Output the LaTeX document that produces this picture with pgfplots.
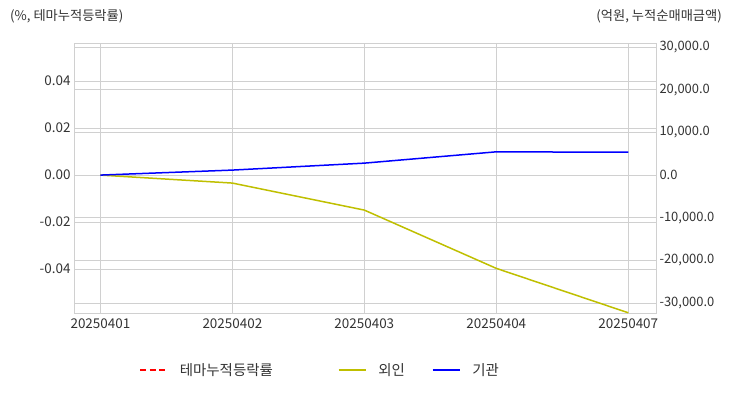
\documentclass[border=0pt]{standalone}
\usepackage{pgfplots}
\pgfplotsset{compat=1.18}
\usepackage{fontspec}
\setmainfont{Noto Sans CJK KR}
\definecolor{olivey}{rgb}{0.75,0.75,0}
\definecolor{gridc}{HTML}{D0D0D0}
\definecolor{txt}{HTML}{333333}
\begin{document}
\begin{tikzpicture}[x=1bp,y=1bp]
\useasboundingbox (0,0) rectangle (732,392);
\node[anchor=west, text=txt, font=\fontsize{13.3}{15}\selectfont, inner sep=0] at (10,376) {(\%, 테마누적등락률)};
\node[anchor=east, text=txt, font=\fontsize{13.3}{15}\selectfont, inner sep=0] at (722,376) {(억원, 누적순매매금액)};
\begin{axis}[
  at={(74bp,79bp)}, anchor=south west, scale only axis,
  width=582bp, height=269bp,
  xmin=-0.2, xmax=4.21, ymin=-0.0587, ymax=0.0557,
  xtick={0,1,2,3,4},
  xticklabels={20250401,20250402,20250403,20250404,20250407},
  ytick={-0.04,-0.02,0,0.02,0.04},
  grid=major, major grid style={draw=gridc, line width=0.8bp},
  axis line style={draw=gridc, line width=1bp},
  tick style={draw=none},
  ticklabel style={font=\fontsize{13.5}{15}\selectfont, text=txt},
  xticklabel style={yshift=-2bp},
  yticklabel style={/pgf/number format/fixed, /pgf/number format/fixed zerofill, /pgf/number format/precision=2, /pgf/number format/assume math mode=true},
  scaled y ticks=false,
]
\end{axis}
\begin{axis}[
  at={(74bp,79bp)}, anchor=south west, scale only axis,
  width=582bp, height=269bp,
  xmin=-0.2, xmax=4.21, ymin=-32300, ymax=30700,
  axis x line=none, axis y line*=right,
  ytick={-30000,-20000,-10000,0,10000,20000,30000},
  ymajorgrids, major grid style={draw=gridc, line width=0.8bp},
  axis line style={draw=gridc, line width=1bp},
  tick style={draw=none},
  ticklabel style={font=\fontsize{13}{15}\selectfont, text=txt},
  yticklabel style={/pgf/number format/fixed, /pgf/number format/fixed zerofill, /pgf/number format/precision=1, /pgf/number format/1000 sep={,}, /pgf/number format/assume math mode=true},
  scaled y ticks=false,
  legend columns=3,
  legend style={at={(0.423,-0.212)}, anchor=center, draw=none, fill=none,
    font=\fontsize{14.5}{16}\selectfont, text=txt,
    /tikz/every odd column/.append style={column sep=10bp},
    /tikz/every even column/.append style={column sep=25bp}},
  legend image code/.code={\draw[#1] (0bp,0bp) -- (27bp,0bp);},
]
\addlegendimage{red, dash pattern=on 6bp off 3.5bp, line width=1.5bp}
\addlegendentry{\makebox[131bp][l]{테마누적등락률}}
\addplot[olivey, line width=1.5bp] coordinates {(0,0) (1,-1870) (2,-8200) (3,-21850) (4,-32250)};
\addlegendentry{외인}
\addplot[blue, line width=1.5bp] coordinates {(0,0) (1,1170) (2,2800) (3,5450) (4,5350)};
\addlegendentry{기관}
\end{axis}
\end{tikzpicture}
\end{document}
